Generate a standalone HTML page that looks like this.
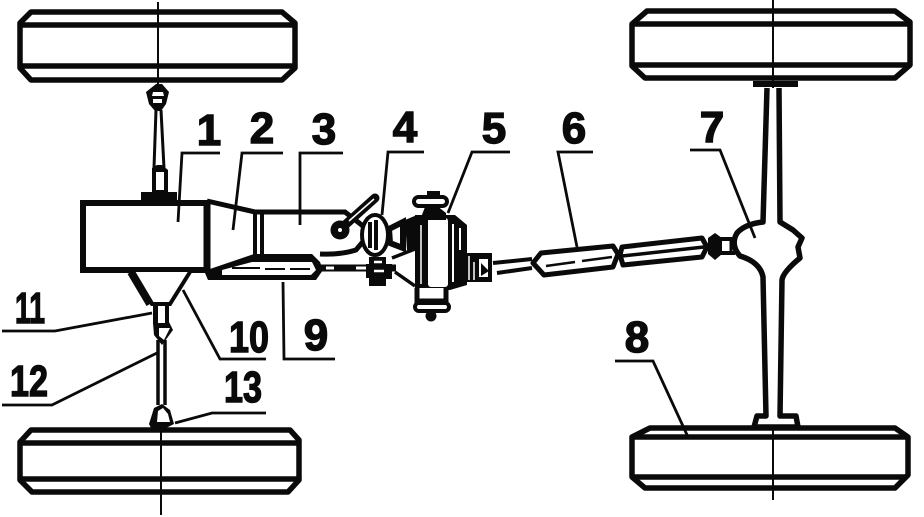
<!DOCTYPE html>
<html><head><meta charset="utf-8"><style>html,body{margin:0;padding:0;background:#fff}svg{display:block}text{font-family:"Liberation Sans",sans-serif;font-weight:bold;font-size:44px;fill:#0a0a0a;stroke:#0a0a0a;stroke-width:1.4;text-anchor:middle}</style></head><body>
<svg width="924" height="517" viewBox="0 0 924 517" xmlns="http://www.w3.org/2000/svg">
<!-- wheels -->
<g fill="none" stroke="#0a0a0a" stroke-width="5.5" stroke-linejoin="round">
<path d="M31 12H282L295 23V68L282 80H31L20 68V23Z"/>
<path d="M20 25H295M20 66H295"/>
<path d="M31 430H290L299 440V480L288 492H32L20 480V442Z"/>
<path d="M22 443H298M22 479H298"/>
<path d="M647 11H895L910 22V65L895 78H645L632 66V24Z"/>
<path d="M634 24H908M634 65H908"/>
<path d="M650 428H895L908 437V475L895 488H645L632 477V437Z"/>
<path d="M634 437H906M634 477H906"/>
</g>
<!-- centre lines -->
<path d="M158 2V86M161 430V515M773 0V86M773 414V500" stroke="#0a0a0a" stroke-width="2" fill="none"/>
<!-- front axle upper -->
<path d="M146 92L156 84H162L169 92L166 104L161 111H155L149 104Z" fill="#0a0a0a"/>
<path d="M153 92H163L164 96H152Z" fill="#fff"/><rect x="153" y="99" width="9" height="4" fill="#fff"/>
<path d="M156 110L154 168M161 110L164 168" stroke="#0a0a0a" stroke-width="3" fill="none"/>
<path d="M152 168L157 165H162L168 170V192H177V200H141V192H152Z" fill="#0a0a0a"/>
<rect x="156" y="172" width="8" height="18" fill="#fff"/>
<!-- engine -->
<rect x="83" y="203" width="124" height="67" fill="#fff" stroke="#0a0a0a" stroke-width="6"/>
<path d="M207 201L255 212H345L363 226L366 238L356 250Q340 255 320 254" fill="none" stroke="#0a0a0a" stroke-width="5"/>
<path d="M207 202V270" stroke="#0a0a0a" stroke-width="7"/>
<path d="M255 214V256M262 214V256" stroke="#0a0a0a" stroke-width="4"/>
<!-- shaft 9 -->
<path d="M207 270L254 254H312L320 262L323 270L316 280H208L205 273Z" fill="#0a0a0a"/>
<path d="M222 270L252 262H312L316 270L311 275H222Z" fill="#fff"/>
<path d="M232 268H260M265 269H285M290 269H310" stroke="#0a0a0a" stroke-width="2"/>
<!-- cone -->
<path d="M131 272L152 304H170L190 272" fill="#fff" stroke="#0a0a0a" stroke-width="4"/>
<path d="M131 272L150 304" stroke="#0a0a0a" stroke-width="8"/>
<path d="M153 303H169V322L173 330L162 345L154 335L153 323Z" fill="#0a0a0a"/>
<rect x="158" y="306" width="7" height="17" fill="#fff"/>
<path d="M159 328H170L164 340L159 336Z" fill="#fff"/>
<path d="M158 340V405M165 340V405" stroke="#0a0a0a" stroke-width="3.5"/>
<path d="M149 424L154 408L162 404L170 410L174 424L162 430H152Z" fill="#0a0a0a"/>
<path d="M157 422L158 411L163 408L168 414L170 422Z" fill="#fff"/>
<!-- lever -->
<path d="M345 225L375 198" stroke="#0a0a0a" stroke-width="9" stroke-linecap="round"/>
<path d="M349 221L374 199" stroke="#fff" stroke-width="1.5"/>
<circle cx="340" cy="230" r="9.5" fill="#0a0a0a"/><circle cx="340" cy="230" r="2" fill="#fff"/>
<!-- joint 4 -->
<ellipse cx="375" cy="235" rx="13" ry="20" fill="#fff" stroke="#0a0a0a" stroke-width="4"/>
<path d="M370 222V248M376 220V250" stroke="#0a0a0a" stroke-width="4"/>
<path d="M389 229L403 222V248L390 243Z" fill="#fff" stroke="#0a0a0a" stroke-width="6"/>
<path d="M405 220L417 215H422V250H407Z" fill="#0a0a0a"/>
<!-- shaft into box -->
<path d="M320 268H368M386 268H396" stroke="#0a0a0a" stroke-width="7"/>
<path d="M326 268H334M356 268H366" stroke="#fff" stroke-width="3"/>
<path d="M369 257H386V264H392V279H386V286H369V278H366V264H369Z" fill="#0a0a0a"/>
<path d="M374 271H384M374 262H382" stroke="#fff" stroke-width="2.5"/>
<path d="M392 258L415 249M395 272L415 286" stroke="#0a0a0a" stroke-width="3.5"/>
<!-- transfer box -->
<path d="M415 215H455L467 225V285L450 290H415Z" fill="#0a0a0a"/>
<rect x="428" y="218" width="20" height="69" rx="3" fill="#fff"/>
<path d="M421 225V284" stroke="#fff" stroke-width="1.5"/>
<path d="M453 224V282M460 228V250" stroke="#fff" stroke-width="2"/>
<path d="M417 288V301H446V288" fill="#fff" stroke="#0a0a0a" stroke-width="5"/>
<rect x="415" y="303" width="34" height="8" rx="4" fill="#fff" stroke="#0a0a0a" stroke-width="4"/>
<circle cx="431" cy="316" r="5.5" fill="#0a0a0a"/>
<rect x="414" y="197" width="33" height="9" rx="4.5" fill="#fff" stroke="#0a0a0a" stroke-width="4"/>
<path d="M425 207L436 205L446 213V220H420Z" fill="#0a0a0a"/>
<rect x="427" y="191" width="13" height="6" fill="#0a0a0a"/>
<!-- output flange -->
<path d="M464 253H492V282H464Z" fill="#0a0a0a"/>
<rect x="479" y="259" width="9" height="18" fill="#fff"/>
<path d="M481 263L489 271L481 276Z" fill="#0a0a0a"/>
<path d="M469 256V280M474 262V280" stroke="#fff" stroke-width="1.5"/>
<path d="M493 263L532 259M497 273L532 268" stroke="#0a0a0a" stroke-width="4"/>
<!-- tube 6 -->
<path d="M533 263L541 253L613 246L618 254L613 267L544 275Z" fill="#fff" stroke="#0a0a0a" stroke-width="5" stroke-linejoin="round"/>
<path d="M546 266L575 262M582 261L612 257" stroke="#0a0a0a" stroke-width="2.5"/>
<path d="M622 247L702 238L707 247L702 257L623 265L620 255Z" fill="#fff" stroke="#0a0a0a" stroke-width="5" stroke-linejoin="round"/>
<path d="M622 256L704 247" stroke="#0a0a0a" stroke-width="3.5"/>
<path d="M708 238L715 233L722 238L722 254L715 260L708 254Z" fill="#0a0a0a"/>
<path d="M721 239H732M721 253H735" stroke="#0a0a0a" stroke-width="4"/>
<path d="M731 239V253" stroke="#0a0a0a" stroke-width="3"/>
<!-- rear axle -->
<path d="M767 88L763 222Q745 224 737 233Q730 245 740 256Q760 262 763 277L766 416H757L754 427H798L796 416H780L782 280Q783 272 800 258L798 247L802 238L793 230L780 222L779 88" fill="#fff" stroke="#0a0a0a" stroke-width="5.5" stroke-linejoin="round"/>
<path d="M753 84H798" stroke="#0a0a0a" stroke-width="6"/>
<path d="M773 78V88" stroke="#0a0a0a" stroke-width="2"/>
<!-- leaders -->
<g stroke="#0a0a0a" stroke-width="2.8" fill="none">
<path d="M220 153H182L178 222"/>
<path d="M283 153H242L233 230"/>
<path d="M343 153H300V225"/>
<path d="M424 152H388L382 215"/>
<path d="M510 152H472L448 213"/>
<path d="M593 152H558L577 247"/>
<path d="M690 150H720L755 238"/>
<path d="M615 361H653L688 437"/>
<path d="M335 359H284L283 282"/>
<path d="M266 359H220L183 290"/>
<path d="M2 331H55L152 313"/>
<path d="M2 405H52L157 353"/>
<path d="M266 413H212L175 423"/>
</g>
<text x="209" y="145">1</text>
<text x="262" y="143">2</text>
<text x="324" y="144">3</text>
<text x="405" y="142">4</text>
<text x="494" y="143">5</text>
<text x="574" y="143">6</text>
<text x="712" y="142">7</text>
<text x="637" y="352">8</text>
<text x="316" y="350">9</text>
<text x="249" y="352" textLength="40" lengthAdjust="spacingAndGlyphs">10</text>
<text x="30" y="323" textLength="30" lengthAdjust="spacingAndGlyphs">11</text>
<text x="29" y="396" textLength="38" lengthAdjust="spacingAndGlyphs">12</text>
<text x="243" y="402" textLength="38" lengthAdjust="spacingAndGlyphs">13</text>
</svg>
</body></html>
